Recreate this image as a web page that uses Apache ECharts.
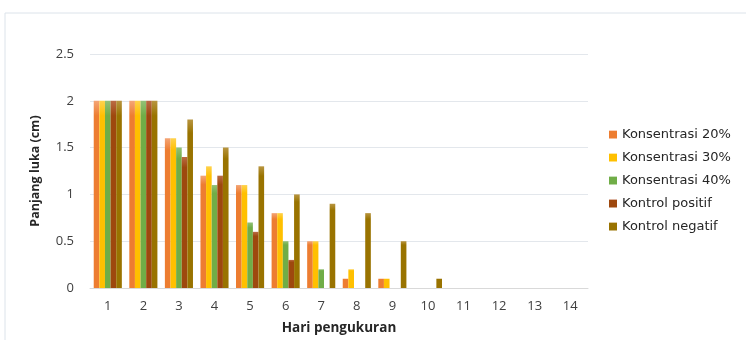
<!DOCTYPE html>
<html><head><meta charset="utf-8">
<script src="https://cdn.jsdelivr.net/npm/echarts@6/dist/echarts.min.js"></script>
<style>html,body{margin:0;padding:0;background:#fff}#c{width:746px;height:340px}</style>
</head><body><div id="c"></div>
<script>
const categories = ['1','2','3','4','5','6','7','8','9','10','11','12','13','14'];
const seriesNames = ['Konsentrasi 20%','Konsentrasi 30%','Konsentrasi 40%','Kontrol positif','Kontrol negatif'];
const konsentrasi20 = [2,2,1.6,1.2,1.1,0.8,0.5,0.1,0.1,0,0,0,0,0];
const konsentrasi30 = [2,2,1.6,1.3,1.1,0.8,0.5,0.2,0.1,0,0,0,0,0];
const konsentrasi40 = [2,2,1.5,1.1,0.7,0.5,0.2,0,0,0,0,0,0,0];
const kontrolPositif = [2,2,1.4,1.2,0.6,0.3,0,0,0,0,0,0,0,0];
const kontrolNegatif = [2,2,1.8,1.5,1.3,1.0,0.9,0.8,0.5,0.1,0,0,0,0];
const yTicks = [0,0.5,1,1.5,2,2.5];

const colors = ['#ED7D31','#FFC000','#70AD47','#9E480E','#997300'];
const lights = ['#F4A576','#FFD24D','#93C177','#BB6B45','#B89540'];
const dataSets = [konsentrasi20,konsentrasi30,konsentrasi40,kontrolPositif,kontrolNegatif];

const chart = echarts.init(document.getElementById('c'), null, {renderer:'canvas'});
const axisFont = '"Open Sans", "Noto Sans", sans-serif';
chart.setOption({
  animation:false,
  backgroundColor:'#fff',
  graphic:[{type:'rect',shape:{x:5,y:13,width:800,height:400},style:{fill:'none',stroke:'#DCE3EA',lineWidth:1}}],
  grid:{left:90,right:158,top:54,bottom:52,containLabel:false,outerBoundsMode:'none'},
  legend:{
    orient:'vertical',left:604,top:123,itemWidth:8,itemHeight:8,itemGap:10,
    icon:'rect',
    textStyle:{fontFamily:'"DejaVu Sans", sans-serif',fontSize:13,color:'#262626'},
    data:seriesNames
  },
  xAxis:{
    type:'category',data:categories,
    name:'Hari pengukuran',nameLocation:'middle',nameGap:33,
    nameTextStyle:{fontFamily:axisFont,fontWeight:'bold',fontSize:13.5,color:'#262626'},
    axisLine:{lineStyle:{color:'#D9D9D9'}},axisTick:{show:false},
    axisLabel:{fontFamily:axisFont,fontSize:13,color:'#404040',margin:12}
  },
  yAxis:{
    type:'value',min:yTicks[0],max:yTicks[yTicks.length-1],interval:0.5,
    name:'Panjang luka (cm)',nameLocation:'middle',nameGap:48,
    nameTextStyle:{fontFamily:axisFont,fontWeight:'bold',fontSize:12.5,color:'#262626'},
    axisLine:{show:false},axisTick:{show:false},
    axisLabel:{fontFamily:axisFont,fontSize:13,color:'#404040',margin:16},
    splitLine:{lineStyle:{color:'#E3E7EC',width:1}}
  },
  series:seriesNames.map((n,i)=>({
    name:n,type:'bar',data:dataSets[i],barGap:'0%',barCategoryGap:'21%',
    itemStyle:{color:new echarts.graphic.LinearGradient(0,0,0,1,[{offset:0,color:lights[i]},{offset:0.08,color:colors[i]},{offset:1,color:colors[i]}])},
    emphasis:{disabled:true}
  })).map((s,i)=>Object.assign(s,{color:colors[i]}))
});
</script></body></html>
